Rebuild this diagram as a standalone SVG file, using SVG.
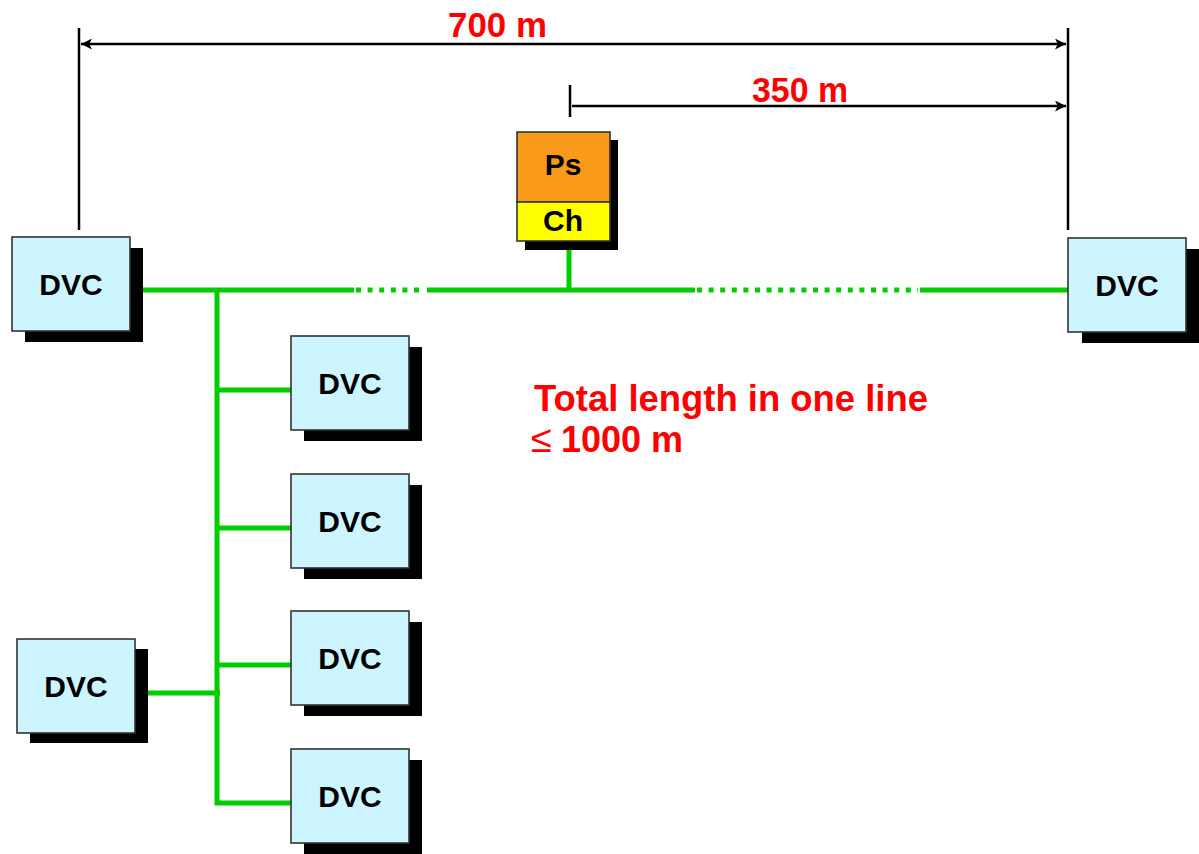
<svg xmlns="http://www.w3.org/2000/svg" width="1199" height="854" viewBox="0 0 1199 854">
<defs>
<style>
.box{fill:#CCF5FF;stroke:#333;stroke-width:1.6}
.sh{fill:#000}
.lbl{font-family:"Liberation Sans",Arial,sans-serif;font-weight:bold;font-size:30px;fill:#000;text-anchor:middle}
.red{font-family:"Liberation Sans",Arial,sans-serif;font-weight:bold;fill:#FF0000}
.dim{stroke:#000;stroke-width:2.5;fill:none}
.g{stroke:#00CC00;stroke-width:5;fill:none}
.gd{stroke:#00CC00;stroke-width:5;fill:none;stroke-dasharray:5 6.6}
</style>
<marker id="arr" viewBox="0 0 10 10" refX="10" refY="5" markerWidth="5" markerHeight="4.4" orient="auto-start-reverse" markerUnits="strokeWidth">
<path d="M0,0 L10,5 L0,10 L2.5,5 Z" fill="#000"/>
</marker>
</defs>
<rect width="1199" height="854" fill="#fff"/>

<g id="connectors">
<line class="dim" x1="79" y1="28" x2="79" y2="230"/>
<line class="dim" x1="1068" y1="28" x2="1068" y2="230"/>
<line class="dim" x1="570" y1="85" x2="570" y2="117"/>
<line class="dim" x1="81" y1="44" x2="1066" y2="44" marker-start="url(#arr)" marker-end="url(#arr)"/>
<line class="dim" x1="572" y1="106" x2="1066" y2="106" marker-end="url(#arr)"/>

<line class="g" x1="143" y1="290" x2="354" y2="290"/>
<line class="gd" x1="356" y1="290" x2="425" y2="290"/>
<line class="g" x1="427" y1="290" x2="695" y2="290"/>
<line class="gd" x1="697" y1="290" x2="918" y2="290"/>
<line class="g" x1="920" y1="290" x2="1068" y2="290"/>
<line class="g" x1="569" y1="250" x2="569" y2="290"/>
<polyline class="g" points="217,290 217,803 291,803"/>
<line class="g" x1="217" y1="390" x2="291" y2="390"/>
<line class="g" x1="217" y1="528" x2="291" y2="528"/>
<line class="g" x1="217" y1="665" x2="291" y2="665"/>
<line class="g" x1="146" y1="693" x2="220" y2="693"/>
</g>

<g id="dim-labels">
<text class="red" x="448" y="37" font-size="35" textLength="99" lengthAdjust="spacingAndGlyphs">700 m</text>
<text class="red" x="752" y="102" font-size="35" textLength="96" lengthAdjust="spacingAndGlyphs">350 m</text>
</g>

<g id="psch">
<rect class="sh" x="525" y="140" width="93" height="110"/>
<rect x="517" y="132" width="93" height="70" fill="#FA9A1A" stroke="#333" stroke-width="1.6"/>
<rect x="517" y="202" width="93" height="39" fill="#FFFF00" stroke="#333" stroke-width="1.6"/>
<text class="lbl" x="563" y="175" font-size="28">Ps</text>
<text class="lbl" x="563" y="231" font-size="28">Ch</text>
</g>

<g id="dvc-left">
<rect class="sh" x="25" y="248" width="118" height="94"/>
<rect class="box" x="12" y="237" width="118" height="94"/>
<text class="lbl" x="71" y="295">DVC</text>
</g>

<g id="dvc-right">
<rect class="sh" x="1082" y="249" width="118" height="94"/>
<rect class="box" x="1068" y="238" width="118" height="94"/>
<text class="lbl" x="1127" y="296">DVC</text>
</g>

<g id="dvc-b1">
<rect class="sh" x="304" y="347" width="118" height="94"/>
<rect class="box" x="291" y="336" width="118" height="94"/>
<text class="lbl" x="350" y="394">DVC</text>
</g>

<g id="dvc-b2">
<rect class="sh" x="304" y="485" width="118" height="94"/>
<rect class="box" x="291" y="474" width="118" height="94"/>
<text class="lbl" x="350" y="532">DVC</text>
</g>

<g id="dvc-b3">
<rect class="sh" x="304" y="622" width="118" height="94"/>
<rect class="box" x="291" y="611" width="118" height="94"/>
<text class="lbl" x="350" y="669">DVC</text>
</g>

<g id="dvc-b4">
<rect class="sh" x="304" y="760" width="118" height="94"/>
<rect class="box" x="291" y="749" width="118" height="94"/>
<text class="lbl" x="350" y="807">DVC</text>
</g>

<g id="dvc-bottom-left">
<rect class="sh" x="30" y="649" width="118" height="94"/>
<rect class="box" x="17" y="639" width="118" height="94"/>
<text class="lbl" x="76" y="697">DVC</text>
</g>

<g id="note">
<text class="red" x="534" y="411" font-size="36" textLength="394" lengthAdjust="spacingAndGlyphs">Total length in one line</text>
<text class="red" y="452" font-size="36"><tspan x="531" font-weight="normal" font-size="38">≤</tspan><tspan x="561">1000 m</tspan></text>
</g>
</svg>
